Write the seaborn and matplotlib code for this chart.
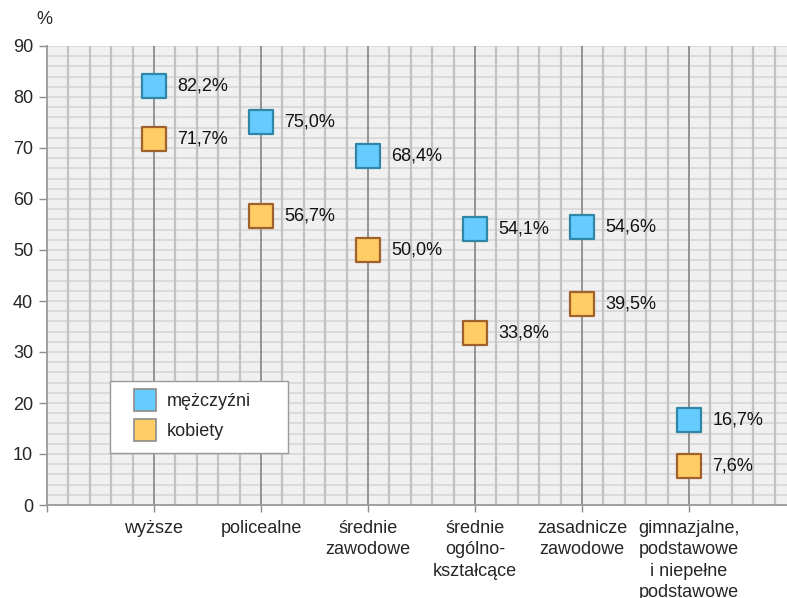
import numpy as np
import pandas as pd
import matplotlib
matplotlib.use('Agg')
import matplotlib.pyplot as plt
from matplotlib.lines import Line2D
import seaborn as sns

# Dane
kategorie = ["wyższe", "policealne", "średnie\nzawodowe", "średnie\nogólno-\nkształcące",
             "zasadnicze\nzawodowe", "gimnazjalne,\npodstawowe\ni niepełne\npodstawowe"]
mezczyzni = [82.2, 75.0, 68.4, 54.1, 54.6, 16.7]
kobiety = [71.7, 56.7, 50.0, 33.8, 39.5, 7.6]
serie = ["mężczyźni", "kobiety"]
y_ticks = [0, 10, 20, 30, 40, 50, 60, 70, 80, 90]

sns.set_style("white")
plt.rcParams['font.family'] = ['Liberation Sans', 'DejaVu Sans']

pozycje = np.arange(1, len(kategorie) + 1)
df = pd.DataFrame({
    "pozycja": np.concatenate([pozycje, pozycje]),
    "wartosc": mezczyzni + kobiety,
    "plec": [serie[0]] * len(mezczyzni) + [serie[1]] * len(kobiety),
})

kolory = {"mężczyźni": ("#66ccff", "#2f86a6"), "kobiety": ("#ffcc66", "#a0622a")}

fig = plt.figure(figsize=(7.87, 5.98), dpi=100)
ax = fig.add_axes([47 / 787, 1 - 505 / 598, 1 - 47 / 787, (505 - 46) / 598])
ax.set_facecolor("#f0f0f0")
ax.set_axisbelow(True)

for plec in serie:
    sub = df[df["plec"] == plec]
    fc, ec = kolory[plec]
    sns.scatterplot(data=sub, x="pozycja", y="wartosc", marker="s", s=290,
                    color=fc, edgecolor=ec, linewidth=1.6, ax=ax, zorder=3, legend=False)
    for _, row in sub.iterrows():
        ax.text(row["pozycja"] + 0.22, row["wartosc"],
                f'{row["wartosc"]:.1f}%'.replace(".", ","),
                va="center", ha="left", fontsize=13, color="#111111", zorder=4)

x_max = 740 / 107
ax.set_xlim(0, x_max)
ax.set_ylim(0, 90)

# siatka pionowa rysowana nad poziomą
for x in np.arange(0.2, x_max, 0.2):
    if abs(x - round(x)) > 0.01:
        ax.axvline(x, color="#c2c2c2", linewidth=1.6, zorder=1)
for x in pozycje:
    ax.axvline(x, color="#8c8c8c", linewidth=1.3, zorder=1.5)

ax.set_xticks(np.arange(0, len(kategorie) + 1))
ax.set_xticklabels([""] + kategorie, fontsize=13, linespacing=1.32)
ax.set_yticks(y_ticks)
ax.set_yticklabels([str(t) for t in y_ticks], fontsize=13)
ax.set_yticks(np.arange(0, 91, 2), minor=True)

ax.tick_params(axis="x", which="major", length=5, width=1, color="#8c8c8c", pad=6, direction="out", bottom=True)
ax.tick_params(axis="y", which="major", length=6, width=1, color="#8c8c8c", pad=4, direction="out", left=True)
ax.tick_params(which="minor", length=0)

ax.grid(axis="y", which="both", color="#d6d6d6", linewidth=1.2)
ax.grid(axis="x", visible=False)

for s in ["top", "right"]:
    ax.spines[s].set_visible(False)
for s in ["left", "bottom"]:
    ax.spines[s].set_color("#9a9a9a")
    ax.spines[s].set_linewidth(1.3)
    ax.spines[s].set_zorder(2)

ax.set_xlabel("")
ax.set_ylabel("")
fig.text(36 / 787, 1 - 20 / 598, "%", fontsize=13, va="center", ha="left")

uchwyty = [Line2D([0], [0], marker="s", linestyle="", markersize=16,
                  markerfacecolor=kolory[p][0], markeredgecolor="#8c8c8c", markeredgewidth=1.2)
           for p in serie]
leg = ax.legend(uchwyty, serie, loc="lower left", bbox_to_anchor=(0.085, 0.113, 0.241, 0.16),
                mode="expand", fontsize=13, frameon=True, fancybox=False, borderpad=0.7,
                handletextpad=0.0, labelspacing=0.72, borderaxespad=0, handlelength=2.45)
leg.get_frame().set_edgecolor("#9a9a9a")
leg.get_frame().set_linewidth(1.0)
leg.get_frame().set_facecolor("white")
leg.get_frame().set_alpha(1)
leg.set_zorder(5)

fig.savefig("out.png", dpi=100)
